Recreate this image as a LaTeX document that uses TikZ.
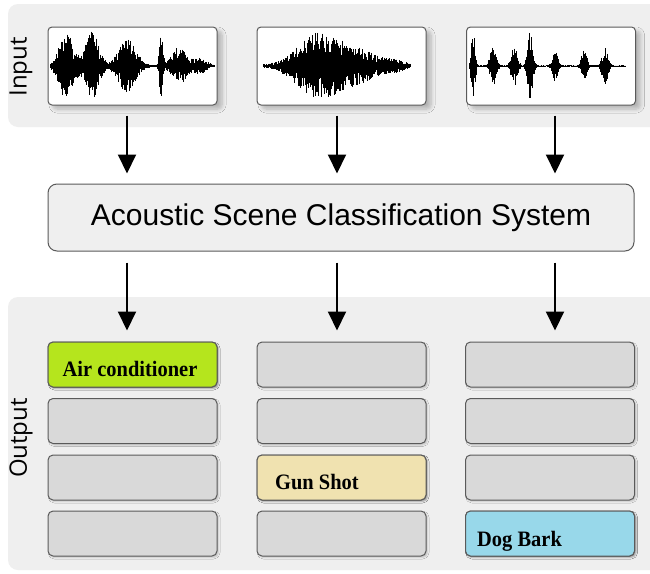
\documentclass[tikz,border=0pt]{standalone}
\usepackage{fontspec}
\setmainfont{Liberation Serif}
\setsansfont{Liberation Sans}
\newfontfamily\sidefont{Open Sans}
\newfontfamily\slotfont{Liberation Serif Bold}[FakeStretch=0.93]
\usetikzlibrary{arrows.meta,shadows.blur}

\definecolor{panelgray}{HTML}{EFEFEF}
\definecolor{slotgray}{HTML}{D9D9D9}
\definecolor{edgegray}{HTML}{5A5A5A}
\definecolor{acgreen}{HTML}{B5E51D}
\definecolor{gunbeige}{HTML}{F0E2B0}
\definecolor{dogblue}{HTML}{98D8EA}

% vertical-stroke waveform: #1 start x, #2 end x, #3 centre y, #4 envelope in \t
\newcommand\wavestrip[4]{%
  \foreach \t in {#1,#1.5,...,#2}{%
    \pgfmathsetmacro\ampup{(#4)*(0.3+0.7*rnd)}%
    \pgfmathsetmacro\ampdn{(#4)*(0.3+0.7*rnd)}%
    \draw[line width=0.5pt] (\t,#3-\ampup) -- (\t,#3+\ampdn);%
  }%
}

\begin{document}
\begin{tikzpicture}[x=1pt,y=-1pt,
  wavebox/.style={draw=edgegray,line width=1pt,fill=white,rounded corners=4pt,
    minimum width=169pt,minimum height=78pt,inner sep=0pt,
    blur shadow={shadow xshift=5pt,shadow yshift=-4pt,shadow blur steps=6,
      shadow blur radius=4pt,shadow opacity=25}},
  sysbox/.style={draw=edgegray,line width=1pt,fill=panelgray,rounded corners=9pt,
    minimum width=586pt,minimum height=67pt,inner sep=0pt,
    font=\sffamily\fontsize{30}{34}\selectfont},
  slot/.style={draw=edgegray,line width=1pt,fill=slotgray,rounded corners=5pt,
    minimum width=169pt,minimum height=45pt,inner sep=0pt,
    blur shadow={shadow xshift=1.5pt,shadow yshift=-1.5pt,shadow blur steps=3,
      shadow blur radius=1.5pt,shadow opacity=20}},
  slotlabel/.style={anchor=base west,inner sep=0pt,
    font=\slotfont\fontsize{22}{24}\selectfont},
  sidelabel/.style={rotate=90,inner sep=0pt,font=\sidefont\fontsize{24}{28}\selectfont},
  arr/.style={line width=2pt,-{Triangle[width=18pt,length=19pt]}}
]
\useasboundingbox (0,0) rectangle (650,573);
\fill[white] (0,0) rectangle (650,573);

% background panels
\fill[panelgray,rounded corners=10pt] (8,4) rectangle (664,127);
\fill[panelgray,rounded corners=10pt] (8,297) rectangle (664,570);

\node[sidelabel] (inlbl) at (21,67) {Input};
\node[sidelabel] (outlbl) at (21,438) {Output};

% input recordings
\node[wavebox] (w1) at (132.5,66) {};
\node[wavebox] (w2) at (341.5,66) {};
\node[wavebox] (w3) at (551,66) {};

\pgfmathsetseed{4242}
\wavestrip{50}{214}{66}{32*exp(-((\t-66)/10)^2)+34*exp(-((\t-92)/9)^2)+26*exp(-((\t-127)/12)^2)+34*exp(-((\t-161)/2.2)^2)+18*exp(-((\t-179)/10)^2)+7*exp(-((\t-200)/9)^2)+0.8}
\wavestrip{263}{410}{66}{33*exp(-((\t-320)/30)^2)+13*exp(-((\t-362)/22)^2)+5*exp(-((\t-395)/14)^2)+0.8}
\wavestrip{469}{625}{66}{33*exp(-((\t-473)/2.6)^2)+20*exp(-((\t-493)/4)^2)+20*exp(-((\t-514)/4)^2)+34*exp(-((\t-530)/3.5)^2)+16*exp(-((\t-555)/3.5)^2)+16*exp(-((\t-584)/3.5)^2)+18*exp(-((\t-605)/4)^2)+0.6}

% classifier
\node[sysbox] (sys) at (341,217.5) {Acoustic Scene Classification System};

% output slots
\foreach \col/\cx in {1/132.5,2/341.5,3/550}{
  \foreach \row/\cy in {1/364.5,2/421,3/477.5,4/533.5}{
    \node[slot] (o\col\row) at (\cx,\cy) {};
  }
}
\node[slot,fill=acgreen] at (o11) {};
\node[slot,fill=gunbeige] at (o23) {};
\node[slot,fill=dogblue] at (o34) {};
\node[slotlabel] (l1) at (62.5,376.5) {Air conditioner};
\node[slotlabel] (l2) at (275,489) {Gun Shot};
\node[slotlabel] (l3) at (477,546.5) {Dog Bark};

% arrow columns
\coordinate (a1) at (127,0);
\coordinate (a2) at (337,0);
\coordinate (a3) at (555,0);
\foreach \k/\b in {1/w1,2/w2,3/w3}{
  \draw[arr] ([yshift=-10pt]a\k |- \b.south) -- ([yshift=10pt]a\k |- sys.north);
}
\foreach \k/\b in {1/o11,2/o21,3/o31}{
  \draw[arr] ([yshift=-11pt]a\k |- sys.south) -- ([yshift=11pt]a\k |- \b.north);
}
\end{tikzpicture}
\end{document}
